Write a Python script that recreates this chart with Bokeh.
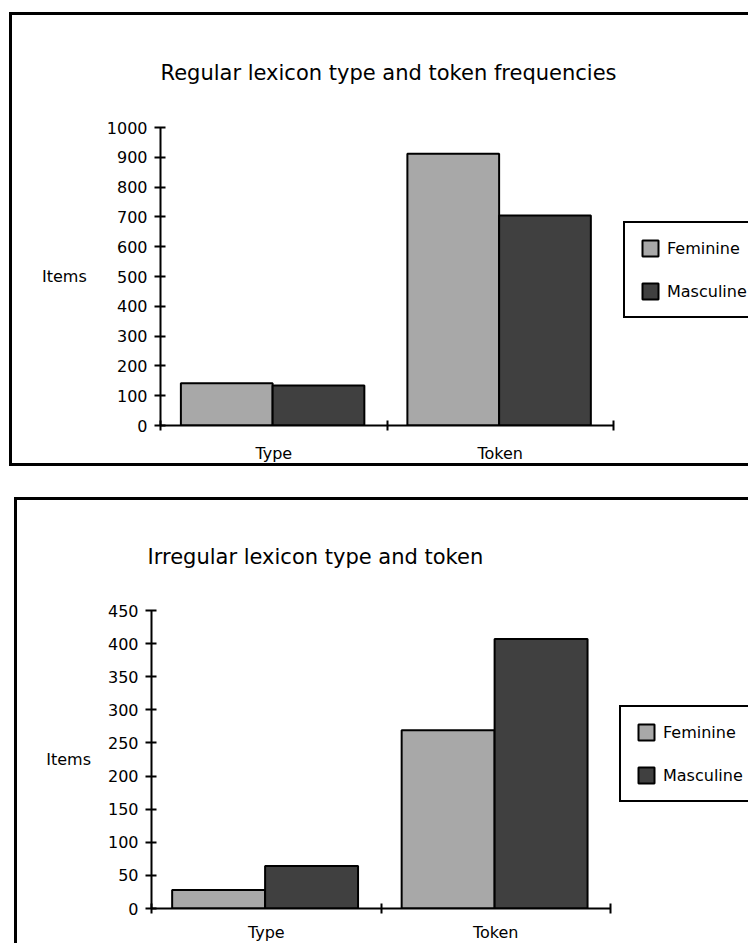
from bokeh.plotting import figure
from bokeh.models import ColumnDataSource, Range1d, FixedTicker, Legend, LegendItem
from bokeh.transform import dodge
from bokeh.embed import file_html
from bokeh.resources import INLINE

# ---------------- data ----------------
categories = ["Type", "Token"]
series_names = ["Feminine", "Masculine"]

regular_title = "Regular lexicon type and token frequencies"
regular_feminine = [142, 912]
regular_masculine = [134, 705]
regular_ticks = [0, 100, 200, 300, 400, 500, 600, 700, 800, 900, 1000]

irregular_title = "Irregular lexicon type and token"
irregular_feminine = [28, 269]
irregular_masculine = [64, 407]
irregular_ticks = [0, 50, 100, 150, 200, 250, 300, 350, 400, 450]

y_axis_label = "Items"

# ---------------- style ----------------
FONT = "DejaVu Sans"
FEM_COLOR = "#a8a8a8"
MASC_COLOR = "#404040"


def make_chart(title, fem, masc, ticks, css_w, css_h, borders, margin, frame,
               title_offset, title_standoff, ylab_standoff, xlab_standoff, legend_loc):
    # borders = (left, top, bottom) widths of the chart's outer frame (CSS)
    bl, bt, bb = borders
    canvas_w = css_w + bl          # the canvas takes the element's border box
    canvas_h = css_h + bt + bb
    # frame = (axis left, end of category axis, top, bottom) in canvas pixels
    f_left, f_right, f_top, f_bottom = frame
    n = len(categories)
    px_per_cat = (f_right - f_left) / n
    x_end = (canvas_w - f_left) / px_per_cat      # frame runs to the right edge
    p = figure(width=css_w, height=css_h, output_backend="svg", toolbar_location=None,
               x_range=Range1d(0, x_end), y_range=Range1d(0, ticks[-1]),
               min_border_left=f_left, min_border_right=0,
               min_border_top=f_top, min_border_bottom=canvas_h - f_bottom,
               title=title)
    p.outline_line_color = None
    p.grid.visible = False
    p.background_fill_color = "white"
    p.border_fill_color = "white"
    styles = {"box-sizing": "content-box", "margin": margin,
              "border-left": f"{bl}px solid black", "border-top": f"{bt}px solid black"}
    if bb:
        styles["border-bottom"] = f"{bb}px solid black"
    p.styles = styles

    # title
    p.title.text_font = FONT
    p.title.text_font_size = "21px"
    p.title.text_font_style = "normal"
    p.title.text_color = "black"
    p.title.align = "left"
    p.title.vertical_align = "bottom"
    p.title.offset = title_offset
    p.title.standoff = title_standoff

    # bars
    centers = [i + 0.495 for i in range(n)]
    src = ColumnDataSource(dict(x=centers, cat=categories, fem=fem, masc=masc))
    bw = 0.405
    r1 = p.vbar(x=dodge("x", -bw / 2), top="fem", width=bw, bottom=0, source=src,
                fill_color=FEM_COLOR, line_color="black", line_width=2)
    r2 = p.vbar(x=dodge("x", bw / 2), top="masc", width=bw, bottom=0, source=src,
                fill_color=MASC_COLOR, line_color="black", line_width=2)

    # y axis
    ya = p.yaxis[0]
    ya.ticker = FixedTicker(ticks=ticks)
    ya.axis_line_width = 2
    ya.major_tick_line_width = 2
    ya.major_tick_out = 6
    ya.major_tick_in = 5
    ya.minor_tick_line_color = None
    ya.major_label_standoff = 7
    ya.major_label_text_font = FONT
    ya.major_label_text_font_size = "16px"
    ya.major_label_text_color = "black"
    ya.axis_label = y_axis_label
    ya.axis_label_orientation = "horizontal"
    ya.axis_label_text_font = FONT
    ya.axis_label_text_font_size = "16px"
    ya.axis_label_text_font_style = "normal"
    ya.axis_label_text_color = "black"
    ya.axis_label_standoff = ylab_standoff

    # x axis: boundary ticks drawn as minor ticks, category labels at centres
    xa = p.xaxis[0]
    xa.bounds = (0, n)
    xa.ticker = FixedTicker(ticks=[i + 0.5 for i in range(n)],
                            minor_ticks=list(range(n + 1)))
    xa.major_label_overrides = {i + 0.5: c for i, c in enumerate(categories)}
    xa.axis_line_width = 2
    xa.major_tick_in = 0
    xa.major_tick_out = 0
    xa.major_tick_line_color = None
    xa.minor_tick_in = 5
    xa.minor_tick_out = 5
    xa.minor_tick_line_width = 2
    xa.minor_tick_line_color = "black"
    xa.major_label_standoff = xlab_standoff
    xa.major_label_text_font = FONT
    xa.major_label_text_font_size = "16px"
    xa.major_label_text_color = "black"

    # legend (inside the frame, which reaches the right edge)
    lg = Legend(items=[LegendItem(label=series_names[0], renderers=[r1]),
                       LegendItem(label=series_names[1], renderers=[r2])],
                location=legend_loc)
    lg.margin = 0
    lg.padding = 15
    lg.spacing = 23
    lg.glyph_width = 20
    lg.glyph_height = 20
    lg.label_height = 20
    lg.label_standoff = 7
    lg.label_text_font = FONT
    lg.label_text_font_size = "16px"
    lg.label_text_color = "black"
    lg.label_text_baseline = "hanging"
    lg.border_line_color = "black"
    lg.border_line_alpha = 1
    lg.border_line_width = 2
    lg.background_fill_color = "white"
    lg.background_fill_alpha = 1
    p.add_layout(lg, "center")
    return p


p1 = make_chart(regular_title, regular_feminine, regular_masculine, regular_ticks,
                css_w=736, css_h=448, borders=(3, 3, 3), margin="12px 0px 0px 9px",
                frame=(148, 601, 112, 410), title_offset=0, title_standoff=86,
                ylab_standoff=17, xlab_standoff=13, legend_loc=(463, 107))
p2 = make_chart(irregular_title, irregular_feminine, irregular_masculine, irregular_ticks,
                css_w=731, css_h=443, borders=(3, 3, 0), margin="31px 0px 0px 14px",
                frame=(134, 593, 110, 408), title_offset=-4, title_standoff=84,
                ylab_standoff=14, xlab_standoff=9, legend_loc=(468, 106))

open("out.html", "w").write(file_html([p1, p2], INLINE))
